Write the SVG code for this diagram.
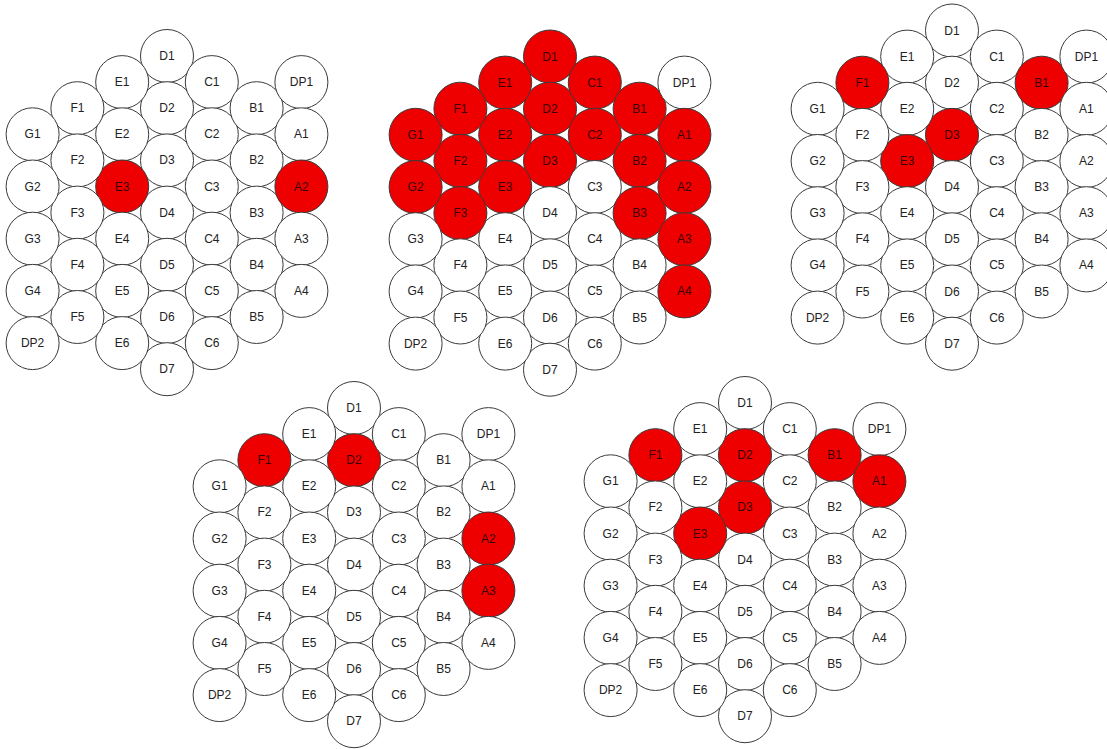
<svg xmlns="http://www.w3.org/2000/svg" width="1107" height="749" viewBox="0 0 1107 749">
<defs>
<style>
.n circle{fill:#fff;stroke:#3a3a3a;stroke-width:1}
.n.on circle{fill:#ee0000}
.n text{font-family:"Liberation Sans",Arial,sans-serif;font-size:12px;fill:#222;text-anchor:middle}
.n.on text{fill:#3a0000}
</style>
</defs>
<rect width="1107" height="749" fill="#fff"/>
<g id="connectors"></g>
<g id="cluster1" transform="translate(167,56)">
<g id="c1-D1" class="n" transform="translate(0,0)"><circle r="26.5"/><text y="4">D1</text></g>
<g id="c1-D2" class="n" transform="translate(0,52.2)"><circle r="26.5"/><text y="4">D2</text></g>
<g id="c1-D3" class="n" transform="translate(0,104.4)"><circle r="26.5"/><text y="4">D3</text></g>
<g id="c1-D4" class="n" transform="translate(0,156.6)"><circle r="26.5"/><text y="4">D4</text></g>
<g id="c1-D5" class="n" transform="translate(0,208.8)"><circle r="26.5"/><text y="4">D5</text></g>
<g id="c1-D6" class="n" transform="translate(0,261)"><circle r="26.5"/><text y="4">D6</text></g>
<g id="c1-D7" class="n" transform="translate(0,313.2)"><circle r="26.5"/><text y="4">D7</text></g>
<g id="c1-E1" class="n" transform="translate(-44.8,26.1)"><circle r="26.5"/><text y="4">E1</text></g>
<g id="c1-E2" class="n" transform="translate(-44.8,78.3)"><circle r="26.5"/><text y="4">E2</text></g>
<g id="c1-E3" class="n on" transform="translate(-44.8,130.5)"><circle r="26.5"/><text y="4">E3</text></g>
<g id="c1-E4" class="n" transform="translate(-44.8,182.7)"><circle r="26.5"/><text y="4">E4</text></g>
<g id="c1-E5" class="n" transform="translate(-44.8,234.9)"><circle r="26.5"/><text y="4">E5</text></g>
<g id="c1-E6" class="n" transform="translate(-44.8,287.1)"><circle r="26.5"/><text y="4">E6</text></g>
<g id="c1-C1" class="n" transform="translate(44.8,26.1)"><circle r="26.5"/><text y="4">C1</text></g>
<g id="c1-C2" class="n" transform="translate(44.8,78.3)"><circle r="26.5"/><text y="4">C2</text></g>
<g id="c1-C3" class="n" transform="translate(44.8,130.5)"><circle r="26.5"/><text y="4">C3</text></g>
<g id="c1-C4" class="n" transform="translate(44.8,182.7)"><circle r="26.5"/><text y="4">C4</text></g>
<g id="c1-C5" class="n" transform="translate(44.8,234.9)"><circle r="26.5"/><text y="4">C5</text></g>
<g id="c1-C6" class="n" transform="translate(44.8,287.1)"><circle r="26.5"/><text y="4">C6</text></g>
<g id="c1-F1" class="n" transform="translate(-89.6,52.2)"><circle r="26.5"/><text y="4">F1</text></g>
<g id="c1-F2" class="n" transform="translate(-89.6,104.4)"><circle r="26.5"/><text y="4">F2</text></g>
<g id="c1-F3" class="n" transform="translate(-89.6,156.6)"><circle r="26.5"/><text y="4">F3</text></g>
<g id="c1-F4" class="n" transform="translate(-89.6,208.8)"><circle r="26.5"/><text y="4">F4</text></g>
<g id="c1-F5" class="n" transform="translate(-89.6,261)"><circle r="26.5"/><text y="4">F5</text></g>
<g id="c1-B1" class="n" transform="translate(89.6,52.2)"><circle r="26.5"/><text y="4">B1</text></g>
<g id="c1-B2" class="n" transform="translate(89.6,104.4)"><circle r="26.5"/><text y="4">B2</text></g>
<g id="c1-B3" class="n" transform="translate(89.6,156.6)"><circle r="26.5"/><text y="4">B3</text></g>
<g id="c1-B4" class="n" transform="translate(89.6,208.8)"><circle r="26.5"/><text y="4">B4</text></g>
<g id="c1-B5" class="n" transform="translate(89.6,261)"><circle r="26.5"/><text y="4">B5</text></g>
<g id="c1-G1" class="n" transform="translate(-134.4,78.3)"><circle r="26.5"/><text y="4">G1</text></g>
<g id="c1-G2" class="n" transform="translate(-134.4,130.5)"><circle r="26.5"/><text y="4">G2</text></g>
<g id="c1-G3" class="n" transform="translate(-134.4,182.7)"><circle r="26.5"/><text y="4">G3</text></g>
<g id="c1-G4" class="n" transform="translate(-134.4,234.9)"><circle r="26.5"/><text y="4">G4</text></g>
<g id="c1-DP2" class="n" transform="translate(-134.4,287.1)"><circle r="26.5"/><text y="4">DP2</text></g>
<g id="c1-DP1" class="n" transform="translate(134.4,26.1)"><circle r="26.5"/><text y="4">DP1</text></g>
<g id="c1-A1" class="n" transform="translate(134.4,78.3)"><circle r="26.5"/><text y="4">A1</text></g>
<g id="c1-A2" class="n on" transform="translate(134.4,130.5)"><circle r="26.5"/><text y="4">A2</text></g>
<g id="c1-A3" class="n" transform="translate(134.4,182.7)"><circle r="26.5"/><text y="4">A3</text></g>
<g id="c1-A4" class="n" transform="translate(134.4,234.9)"><circle r="26.5"/><text y="4">A4</text></g>
</g>
<g id="cluster2" transform="translate(550,56.5)">
<g id="c2-D1" class="n on" transform="translate(0,0)"><circle r="26.5"/><text y="4">D1</text></g>
<g id="c2-D2" class="n on" transform="translate(0,52.2)"><circle r="26.5"/><text y="4">D2</text></g>
<g id="c2-D3" class="n on" transform="translate(0,104.4)"><circle r="26.5"/><text y="4">D3</text></g>
<g id="c2-D4" class="n" transform="translate(0,156.6)"><circle r="26.5"/><text y="4">D4</text></g>
<g id="c2-D5" class="n" transform="translate(0,208.8)"><circle r="26.5"/><text y="4">D5</text></g>
<g id="c2-D6" class="n" transform="translate(0,261)"><circle r="26.5"/><text y="4">D6</text></g>
<g id="c2-D7" class="n" transform="translate(0,313.2)"><circle r="26.5"/><text y="4">D7</text></g>
<g id="c2-E1" class="n on" transform="translate(-44.8,26.1)"><circle r="26.5"/><text y="4">E1</text></g>
<g id="c2-E2" class="n on" transform="translate(-44.8,78.3)"><circle r="26.5"/><text y="4">E2</text></g>
<g id="c2-E3" class="n on" transform="translate(-44.8,130.5)"><circle r="26.5"/><text y="4">E3</text></g>
<g id="c2-E4" class="n" transform="translate(-44.8,182.7)"><circle r="26.5"/><text y="4">E4</text></g>
<g id="c2-E5" class="n" transform="translate(-44.8,234.9)"><circle r="26.5"/><text y="4">E5</text></g>
<g id="c2-E6" class="n" transform="translate(-44.8,287.1)"><circle r="26.5"/><text y="4">E6</text></g>
<g id="c2-C1" class="n on" transform="translate(44.8,26.1)"><circle r="26.5"/><text y="4">C1</text></g>
<g id="c2-C2" class="n on" transform="translate(44.8,78.3)"><circle r="26.5"/><text y="4">C2</text></g>
<g id="c2-C3" class="n" transform="translate(44.8,130.5)"><circle r="26.5"/><text y="4">C3</text></g>
<g id="c2-C4" class="n" transform="translate(44.8,182.7)"><circle r="26.5"/><text y="4">C4</text></g>
<g id="c2-C5" class="n" transform="translate(44.8,234.9)"><circle r="26.5"/><text y="4">C5</text></g>
<g id="c2-C6" class="n" transform="translate(44.8,287.1)"><circle r="26.5"/><text y="4">C6</text></g>
<g id="c2-F1" class="n on" transform="translate(-89.6,52.2)"><circle r="26.5"/><text y="4">F1</text></g>
<g id="c2-F2" class="n on" transform="translate(-89.6,104.4)"><circle r="26.5"/><text y="4">F2</text></g>
<g id="c2-F3" class="n on" transform="translate(-89.6,156.6)"><circle r="26.5"/><text y="4">F3</text></g>
<g id="c2-F4" class="n" transform="translate(-89.6,208.8)"><circle r="26.5"/><text y="4">F4</text></g>
<g id="c2-F5" class="n" transform="translate(-89.6,261)"><circle r="26.5"/><text y="4">F5</text></g>
<g id="c2-B1" class="n on" transform="translate(89.6,52.2)"><circle r="26.5"/><text y="4">B1</text></g>
<g id="c2-B2" class="n on" transform="translate(89.6,104.4)"><circle r="26.5"/><text y="4">B2</text></g>
<g id="c2-B3" class="n on" transform="translate(89.6,156.6)"><circle r="26.5"/><text y="4">B3</text></g>
<g id="c2-B4" class="n" transform="translate(89.6,208.8)"><circle r="26.5"/><text y="4">B4</text></g>
<g id="c2-B5" class="n" transform="translate(89.6,261)"><circle r="26.5"/><text y="4">B5</text></g>
<g id="c2-G1" class="n on" transform="translate(-134.4,78.3)"><circle r="26.5"/><text y="4">G1</text></g>
<g id="c2-G2" class="n on" transform="translate(-134.4,130.5)"><circle r="26.5"/><text y="4">G2</text></g>
<g id="c2-G3" class="n" transform="translate(-134.4,182.7)"><circle r="26.5"/><text y="4">G3</text></g>
<g id="c2-G4" class="n" transform="translate(-134.4,234.9)"><circle r="26.5"/><text y="4">G4</text></g>
<g id="c2-DP2" class="n" transform="translate(-134.4,287.1)"><circle r="26.5"/><text y="4">DP2</text></g>
<g id="c2-DP1" class="n" transform="translate(134.4,26.1)"><circle r="26.5"/><text y="4">DP1</text></g>
<g id="c2-A1" class="n on" transform="translate(134.4,78.3)"><circle r="26.5"/><text y="4">A1</text></g>
<g id="c2-A2" class="n on" transform="translate(134.4,130.5)"><circle r="26.5"/><text y="4">A2</text></g>
<g id="c2-A3" class="n on" transform="translate(134.4,182.7)"><circle r="26.5"/><text y="4">A3</text></g>
<g id="c2-A4" class="n on" transform="translate(134.4,234.9)"><circle r="26.5"/><text y="4">A4</text></g>
</g>
<g id="cluster3" transform="translate(952,30.5)">
<g id="c3-D1" class="n" transform="translate(0,0)"><circle r="26.5"/><text y="4">D1</text></g>
<g id="c3-D2" class="n" transform="translate(0,52.2)"><circle r="26.5"/><text y="4">D2</text></g>
<g id="c3-D3" class="n on" transform="translate(0,104.4)"><circle r="26.5"/><text y="4">D3</text></g>
<g id="c3-D4" class="n" transform="translate(0,156.6)"><circle r="26.5"/><text y="4">D4</text></g>
<g id="c3-D5" class="n" transform="translate(0,208.8)"><circle r="26.5"/><text y="4">D5</text></g>
<g id="c3-D6" class="n" transform="translate(0,261)"><circle r="26.5"/><text y="4">D6</text></g>
<g id="c3-D7" class="n" transform="translate(0,313.2)"><circle r="26.5"/><text y="4">D7</text></g>
<g id="c3-E1" class="n" transform="translate(-44.8,26.1)"><circle r="26.5"/><text y="4">E1</text></g>
<g id="c3-E2" class="n" transform="translate(-44.8,78.3)"><circle r="26.5"/><text y="4">E2</text></g>
<g id="c3-E3" class="n on" transform="translate(-44.8,130.5)"><circle r="26.5"/><text y="4">E3</text></g>
<g id="c3-E4" class="n" transform="translate(-44.8,182.7)"><circle r="26.5"/><text y="4">E4</text></g>
<g id="c3-E5" class="n" transform="translate(-44.8,234.9)"><circle r="26.5"/><text y="4">E5</text></g>
<g id="c3-E6" class="n" transform="translate(-44.8,287.1)"><circle r="26.5"/><text y="4">E6</text></g>
<g id="c3-C1" class="n" transform="translate(44.8,26.1)"><circle r="26.5"/><text y="4">C1</text></g>
<g id="c3-C2" class="n" transform="translate(44.8,78.3)"><circle r="26.5"/><text y="4">C2</text></g>
<g id="c3-C3" class="n" transform="translate(44.8,130.5)"><circle r="26.5"/><text y="4">C3</text></g>
<g id="c3-C4" class="n" transform="translate(44.8,182.7)"><circle r="26.5"/><text y="4">C4</text></g>
<g id="c3-C5" class="n" transform="translate(44.8,234.9)"><circle r="26.5"/><text y="4">C5</text></g>
<g id="c3-C6" class="n" transform="translate(44.8,287.1)"><circle r="26.5"/><text y="4">C6</text></g>
<g id="c3-F1" class="n on" transform="translate(-89.6,52.2)"><circle r="26.5"/><text y="4">F1</text></g>
<g id="c3-F2" class="n" transform="translate(-89.6,104.4)"><circle r="26.5"/><text y="4">F2</text></g>
<g id="c3-F3" class="n" transform="translate(-89.6,156.6)"><circle r="26.5"/><text y="4">F3</text></g>
<g id="c3-F4" class="n" transform="translate(-89.6,208.8)"><circle r="26.5"/><text y="4">F4</text></g>
<g id="c3-F5" class="n" transform="translate(-89.6,261)"><circle r="26.5"/><text y="4">F5</text></g>
<g id="c3-B1" class="n on" transform="translate(89.6,52.2)"><circle r="26.5"/><text y="4">B1</text></g>
<g id="c3-B2" class="n" transform="translate(89.6,104.4)"><circle r="26.5"/><text y="4">B2</text></g>
<g id="c3-B3" class="n" transform="translate(89.6,156.6)"><circle r="26.5"/><text y="4">B3</text></g>
<g id="c3-B4" class="n" transform="translate(89.6,208.8)"><circle r="26.5"/><text y="4">B4</text></g>
<g id="c3-B5" class="n" transform="translate(89.6,261)"><circle r="26.5"/><text y="4">B5</text></g>
<g id="c3-G1" class="n" transform="translate(-134.4,78.3)"><circle r="26.5"/><text y="4">G1</text></g>
<g id="c3-G2" class="n" transform="translate(-134.4,130.5)"><circle r="26.5"/><text y="4">G2</text></g>
<g id="c3-G3" class="n" transform="translate(-134.4,182.7)"><circle r="26.5"/><text y="4">G3</text></g>
<g id="c3-G4" class="n" transform="translate(-134.4,234.9)"><circle r="26.5"/><text y="4">G4</text></g>
<g id="c3-DP2" class="n" transform="translate(-134.4,287.1)"><circle r="26.5"/><text y="4">DP2</text></g>
<g id="c3-DP1" class="n" transform="translate(134.4,26.1)"><circle r="26.5"/><text y="4">DP1</text></g>
<g id="c3-A1" class="n" transform="translate(134.4,78.3)"><circle r="26.5"/><text y="4">A1</text></g>
<g id="c3-A2" class="n" transform="translate(134.4,130.5)"><circle r="26.5"/><text y="4">A2</text></g>
<g id="c3-A3" class="n" transform="translate(134.4,182.7)"><circle r="26.5"/><text y="4">A3</text></g>
<g id="c3-A4" class="n" transform="translate(134.4,234.9)"><circle r="26.5"/><text y="4">A4</text></g>
</g>
<g id="cluster4" transform="translate(354,408)">
<g id="c4-D1" class="n" transform="translate(0,0)"><circle r="26.5"/><text y="4">D1</text></g>
<g id="c4-D2" class="n on" transform="translate(0,52.2)"><circle r="26.5"/><text y="4">D2</text></g>
<g id="c4-D3" class="n" transform="translate(0,104.4)"><circle r="26.5"/><text y="4">D3</text></g>
<g id="c4-D4" class="n" transform="translate(0,156.6)"><circle r="26.5"/><text y="4">D4</text></g>
<g id="c4-D5" class="n" transform="translate(0,208.8)"><circle r="26.5"/><text y="4">D5</text></g>
<g id="c4-D6" class="n" transform="translate(0,261)"><circle r="26.5"/><text y="4">D6</text></g>
<g id="c4-D7" class="n" transform="translate(0,313.2)"><circle r="26.5"/><text y="4">D7</text></g>
<g id="c4-E1" class="n" transform="translate(-44.8,26.1)"><circle r="26.5"/><text y="4">E1</text></g>
<g id="c4-E2" class="n" transform="translate(-44.8,78.3)"><circle r="26.5"/><text y="4">E2</text></g>
<g id="c4-E3" class="n" transform="translate(-44.8,130.5)"><circle r="26.5"/><text y="4">E3</text></g>
<g id="c4-E4" class="n" transform="translate(-44.8,182.7)"><circle r="26.5"/><text y="4">E4</text></g>
<g id="c4-E5" class="n" transform="translate(-44.8,234.9)"><circle r="26.5"/><text y="4">E5</text></g>
<g id="c4-E6" class="n" transform="translate(-44.8,287.1)"><circle r="26.5"/><text y="4">E6</text></g>
<g id="c4-C1" class="n" transform="translate(44.8,26.1)"><circle r="26.5"/><text y="4">C1</text></g>
<g id="c4-C2" class="n" transform="translate(44.8,78.3)"><circle r="26.5"/><text y="4">C2</text></g>
<g id="c4-C3" class="n" transform="translate(44.8,130.5)"><circle r="26.5"/><text y="4">C3</text></g>
<g id="c4-C4" class="n" transform="translate(44.8,182.7)"><circle r="26.5"/><text y="4">C4</text></g>
<g id="c4-C5" class="n" transform="translate(44.8,234.9)"><circle r="26.5"/><text y="4">C5</text></g>
<g id="c4-C6" class="n" transform="translate(44.8,287.1)"><circle r="26.5"/><text y="4">C6</text></g>
<g id="c4-F1" class="n on" transform="translate(-89.6,52.2)"><circle r="26.5"/><text y="4">F1</text></g>
<g id="c4-F2" class="n" transform="translate(-89.6,104.4)"><circle r="26.5"/><text y="4">F2</text></g>
<g id="c4-F3" class="n" transform="translate(-89.6,156.6)"><circle r="26.5"/><text y="4">F3</text></g>
<g id="c4-F4" class="n" transform="translate(-89.6,208.8)"><circle r="26.5"/><text y="4">F4</text></g>
<g id="c4-F5" class="n" transform="translate(-89.6,261)"><circle r="26.5"/><text y="4">F5</text></g>
<g id="c4-B1" class="n" transform="translate(89.6,52.2)"><circle r="26.5"/><text y="4">B1</text></g>
<g id="c4-B2" class="n" transform="translate(89.6,104.4)"><circle r="26.5"/><text y="4">B2</text></g>
<g id="c4-B3" class="n" transform="translate(89.6,156.6)"><circle r="26.5"/><text y="4">B3</text></g>
<g id="c4-B4" class="n" transform="translate(89.6,208.8)"><circle r="26.5"/><text y="4">B4</text></g>
<g id="c4-B5" class="n" transform="translate(89.6,261)"><circle r="26.5"/><text y="4">B5</text></g>
<g id="c4-G1" class="n" transform="translate(-134.4,78.3)"><circle r="26.5"/><text y="4">G1</text></g>
<g id="c4-G2" class="n" transform="translate(-134.4,130.5)"><circle r="26.5"/><text y="4">G2</text></g>
<g id="c4-G3" class="n" transform="translate(-134.4,182.7)"><circle r="26.5"/><text y="4">G3</text></g>
<g id="c4-G4" class="n" transform="translate(-134.4,234.9)"><circle r="26.5"/><text y="4">G4</text></g>
<g id="c4-DP2" class="n" transform="translate(-134.4,287.1)"><circle r="26.5"/><text y="4">DP2</text></g>
<g id="c4-DP1" class="n" transform="translate(134.4,26.1)"><circle r="26.5"/><text y="4">DP1</text></g>
<g id="c4-A1" class="n" transform="translate(134.4,78.3)"><circle r="26.5"/><text y="4">A1</text></g>
<g id="c4-A2" class="n on" transform="translate(134.4,130.5)"><circle r="26.5"/><text y="4">A2</text></g>
<g id="c4-A3" class="n on" transform="translate(134.4,182.7)"><circle r="26.5"/><text y="4">A3</text></g>
<g id="c4-A4" class="n" transform="translate(134.4,234.9)"><circle r="26.5"/><text y="4">A4</text></g>
</g>
<g id="cluster5" transform="translate(745,403)">
<g id="c5-D1" class="n" transform="translate(0,0)"><circle r="26.5"/><text y="4">D1</text></g>
<g id="c5-D2" class="n on" transform="translate(0,52.2)"><circle r="26.5"/><text y="4">D2</text></g>
<g id="c5-D3" class="n on" transform="translate(0,104.4)"><circle r="26.5"/><text y="4">D3</text></g>
<g id="c5-D4" class="n" transform="translate(0,156.6)"><circle r="26.5"/><text y="4">D4</text></g>
<g id="c5-D5" class="n" transform="translate(0,208.8)"><circle r="26.5"/><text y="4">D5</text></g>
<g id="c5-D6" class="n" transform="translate(0,261)"><circle r="26.5"/><text y="4">D6</text></g>
<g id="c5-D7" class="n" transform="translate(0,313.2)"><circle r="26.5"/><text y="4">D7</text></g>
<g id="c5-E1" class="n" transform="translate(-44.8,26.1)"><circle r="26.5"/><text y="4">E1</text></g>
<g id="c5-E2" class="n" transform="translate(-44.8,78.3)"><circle r="26.5"/><text y="4">E2</text></g>
<g id="c5-E3" class="n on" transform="translate(-44.8,130.5)"><circle r="26.5"/><text y="4">E3</text></g>
<g id="c5-E4" class="n" transform="translate(-44.8,182.7)"><circle r="26.5"/><text y="4">E4</text></g>
<g id="c5-E5" class="n" transform="translate(-44.8,234.9)"><circle r="26.5"/><text y="4">E5</text></g>
<g id="c5-E6" class="n" transform="translate(-44.8,287.1)"><circle r="26.5"/><text y="4">E6</text></g>
<g id="c5-C1" class="n" transform="translate(44.8,26.1)"><circle r="26.5"/><text y="4">C1</text></g>
<g id="c5-C2" class="n" transform="translate(44.8,78.3)"><circle r="26.5"/><text y="4">C2</text></g>
<g id="c5-C3" class="n" transform="translate(44.8,130.5)"><circle r="26.5"/><text y="4">C3</text></g>
<g id="c5-C4" class="n" transform="translate(44.8,182.7)"><circle r="26.5"/><text y="4">C4</text></g>
<g id="c5-C5" class="n" transform="translate(44.8,234.9)"><circle r="26.5"/><text y="4">C5</text></g>
<g id="c5-C6" class="n" transform="translate(44.8,287.1)"><circle r="26.5"/><text y="4">C6</text></g>
<g id="c5-F1" class="n on" transform="translate(-89.6,52.2)"><circle r="26.5"/><text y="4">F1</text></g>
<g id="c5-F2" class="n" transform="translate(-89.6,104.4)"><circle r="26.5"/><text y="4">F2</text></g>
<g id="c5-F3" class="n" transform="translate(-89.6,156.6)"><circle r="26.5"/><text y="4">F3</text></g>
<g id="c5-F4" class="n" transform="translate(-89.6,208.8)"><circle r="26.5"/><text y="4">F4</text></g>
<g id="c5-F5" class="n" transform="translate(-89.6,261)"><circle r="26.5"/><text y="4">F5</text></g>
<g id="c5-B1" class="n on" transform="translate(89.6,52.2)"><circle r="26.5"/><text y="4">B1</text></g>
<g id="c5-B2" class="n" transform="translate(89.6,104.4)"><circle r="26.5"/><text y="4">B2</text></g>
<g id="c5-B3" class="n" transform="translate(89.6,156.6)"><circle r="26.5"/><text y="4">B3</text></g>
<g id="c5-B4" class="n" transform="translate(89.6,208.8)"><circle r="26.5"/><text y="4">B4</text></g>
<g id="c5-B5" class="n" transform="translate(89.6,261)"><circle r="26.5"/><text y="4">B5</text></g>
<g id="c5-G1" class="n" transform="translate(-134.4,78.3)"><circle r="26.5"/><text y="4">G1</text></g>
<g id="c5-G2" class="n" transform="translate(-134.4,130.5)"><circle r="26.5"/><text y="4">G2</text></g>
<g id="c5-G3" class="n" transform="translate(-134.4,182.7)"><circle r="26.5"/><text y="4">G3</text></g>
<g id="c5-G4" class="n" transform="translate(-134.4,234.9)"><circle r="26.5"/><text y="4">G4</text></g>
<g id="c5-DP2" class="n" transform="translate(-134.4,287.1)"><circle r="26.5"/><text y="4">DP2</text></g>
<g id="c5-DP1" class="n" transform="translate(134.4,26.1)"><circle r="26.5"/><text y="4">DP1</text></g>
<g id="c5-A1" class="n on" transform="translate(134.4,78.3)"><circle r="26.5"/><text y="4">A1</text></g>
<g id="c5-A2" class="n" transform="translate(134.4,130.5)"><circle r="26.5"/><text y="4">A2</text></g>
<g id="c5-A3" class="n" transform="translate(134.4,182.7)"><circle r="26.5"/><text y="4">A3</text></g>
<g id="c5-A4" class="n" transform="translate(134.4,234.9)"><circle r="26.5"/><text y="4">A4</text></g>
</g>
</svg>
